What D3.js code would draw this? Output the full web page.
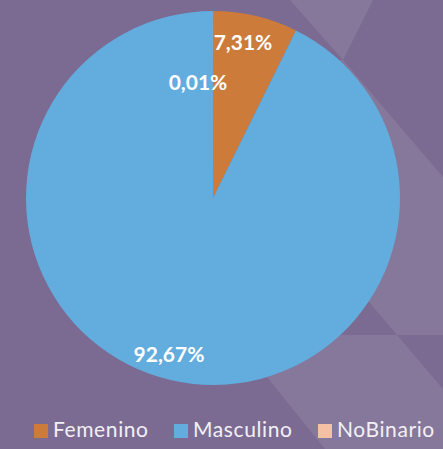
<!DOCTYPE html>
<html><head><meta charset="utf-8">
<script src="https://cdn.jsdelivr.net/npm/d3@7/dist/d3.min.js"></script>
<style>html,body{margin:0;padding:0;background:#7b6b92;}svg{display:block;}</style>
</head><body>
<script>
const categories = ["Femenino", "Masculino", "NoBinario"];
const values = [7.31, 92.67, 0.01];
const labels = ["7,31%", "92,67%", "0,01%"];
const colors = ["#cd7b3a", "#63acde", "#f5c1a4"];

const W = 443, H = 449;
const svg = d3.select("body").append("svg").attr("width", W).attr("height", H);
svg.append("rect").attr("width", W).attr("height", H).attr("fill", "#7b6b92");

// decorative background shapes
const light = "#85789b";
const bgShapes = [
  [[290,0],[373,0],[343,60]],
  [[343,60],[443,177],[443,335],[397,335],[300,221],[300,60]],
  [[233,335],[397,335],[443,389],[443,449],[325,449]]
];
svg.selectAll("polygon.bg").data(bgShapes).join("polygon")
  .attr("points", d => d.map(p => p.join(",")).join(" "))
  .attr("fill", light);

const cx = 213, cy = 198, r = 187;
const pie = d3.pie().sort(null).value(d => d)(values);
const arc = d3.arc().innerRadius(0).outerRadius(r);
const g = svg.append("g").attr("transform", `translate(${cx},${cy})`);
g.selectAll("path").data(pie).join("path")
  .attr("d", arc).attr("fill", (d, i) => colors[i]);

// labels
const labelPos = [[243, 50], [169, 362], [198, 90]];
svg.selectAll("text.lbl").data(labels).join("text")
  .attr("class", "lbl")
  .attr("x", (d, i) => labelPos[i][0]).attr("y", (d, i) => labelPos[i][1])
  .attr("text-anchor", "middle")
  .attr("font-family", "Lato, sans-serif").attr("font-weight", "bold")
  .attr("font-size", 21).attr("fill", "#ffffff")
  .text(d => d);

// legend
const legX = [34, 174, 318];
const lg = svg.selectAll("g.leg").data(categories).join("g")
  .attr("class", "leg")
  .attr("transform", (d, i) => `translate(${legX[i]},424)`);
lg.append("rect").attr("width", 14).attr("height", 14).attr("fill", (d, i) => colors[i]);
lg.append("text").attr("x", 19).attr("y", 13)
  .attr("font-family", "Lato, sans-serif").attr("font-size", 21)
  .attr("letter-spacing", 0.6)
  .attr("fill", "#f2f0f6").text(d => d);
</script>
</body></html>
